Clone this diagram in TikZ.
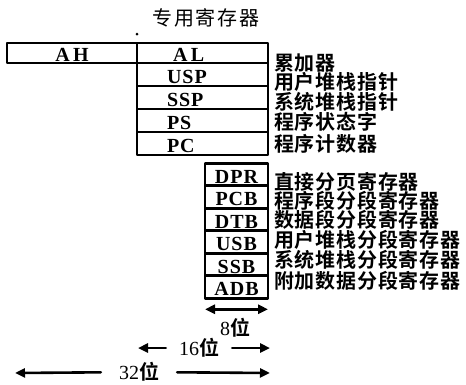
\documentclass[tikz,border=0pt]{standalone}
\usepackage{fontspec}
\setmainfont{Liberation Serif}
\newfontfamily\cjk{Noto Sans CJK SC}[LetterSpace=8]
\newfontfamily\cjkb{Noto Sans CJK SC Bold}[LetterSpace=4]
\usetikzlibrary{positioning,calc,arrows.meta}

\tikzset{
  reg/.style={draw, line width=2.6pt, inner sep=0pt, outer sep=0pt, text height=17pt, text depth=0pt,
    font=\fontsize{20}{20}\selectfont\bfseries\addfontfeature{LetterSpace=5}},
  regwide/.style={reg, minimum height=23pt, text width=71pt, inner xsep=30pt, align=left},
  regsmall/.style={reg, minimum width=63pt, minimum height=22.5pt},
  lbl/.style={anchor=west, inner sep=0pt, font=\fontsize{20}{20}\selectfont\cjkb},
  bits/.style={inner ysep=0pt, font=\fontsize{20}{20}\selectfont},
  dim/.style={line width=2.6pt},
}

\begin{document}
\begin{tikzpicture}[x=1pt, y=-1pt, line cap=round, line join=round, >={Triangle[length=10pt,width=9pt]}]
		\useasboundingbox (0,0) rectangle (466,384);
		% title
		\node[font=\fontsize{20}{20}\selectfont\cjk] (title) at (206,18) {专用寄存器};
		\node[circle, fill, inner sep=0pt, minimum size=3pt] (dot) at (137,34) {};
		% accumulator and pointers
		\node[reg, minimum width=130pt, minimum height=20pt] (ah) at (72,53) {A\,H};
		\node[regwide, minimum height=20pt, inner xsep=36pt, text width=59pt, right=0pt of ah] (al) {A\,L};
		\node[regwide, below=0pt of al] (usp) {USP};
		\node[regwide, below=0pt of usp] (ssp) {SSP};
		\node[regwide, below=0pt of ssp] (ps) {PS};
		\node[regwide, below=0pt of ps] (pc) {PC};
		% segment registers
		\node[regsmall] (dpr) at (236.5,174.5) {DPR};
		\node[regsmall, below=0pt of dpr] (pcb) {PCB};
		\node[regsmall, below=0pt of pcb] (dtb) {DTB};
		\node[regsmall, below=0pt of dtb] (usb) {USB};
		\node[regsmall, below=0pt of usb] (ssb) {SSB};
		\node[regsmall, below=0pt of ssb] (adb) {ADB};
		% names
		\node[lbl] (t-al) at (274,63) {累加器};
		\node[lbl] (t-usp) at (274,82) {用户堆栈指针};
		\node[lbl] (t-ssp) at (274,102) {系统堆栈指针};
		\node[lbl] (t-ps) at (274,122) {程序状态字};
		\node[lbl] (t-pc) at (274,144) {程序计数器};
		\node[lbl] (t-dpr) at (274,182) {直接分页寄存器};
		\node[lbl] (t-pcb) at (274,201) {程序段分段寄存器};
		\node[lbl] (t-dtb) at (274,220) {数据段分段寄存器};
		\node[lbl] (t-usb) at (274,240) {用户堆栈分段寄存器};
		\node[lbl] (t-ssb) at (274,260) {系统堆栈分段寄存器};
		\node[lbl] (t-adb) at (274,281) {附加数据分段寄存器};
		% widths
		\draw [dim, <->] ([yshift=-11pt]adb.south west) -- ([yshift=-11pt]adb.south east);
		\node[bits] (w8) at (235,328) {8{\cjkb 位}};
		\node[bits, inner xsep=13pt] (w16) at (199,348) {16{\cjkb 位}};
		\coordinate (l16) at (138,348);
		\coordinate (r16) at (270,348);
		\draw [dim, ->] (w16) -- (l16);
		\draw [dim, ->] (w16) -- (r16);
		\node[bits, inner xsep=18pt] (w32) at (139,372) {32{\cjkb 位}};
		\coordinate (l32) at (15,373);
		\coordinate (r32) at (270,373);
		\draw [dim, ->] (w32) -- (l32);
		\draw [dim, ->] (w32) -- (r32);
	\end{tikzpicture}
\end{document}
